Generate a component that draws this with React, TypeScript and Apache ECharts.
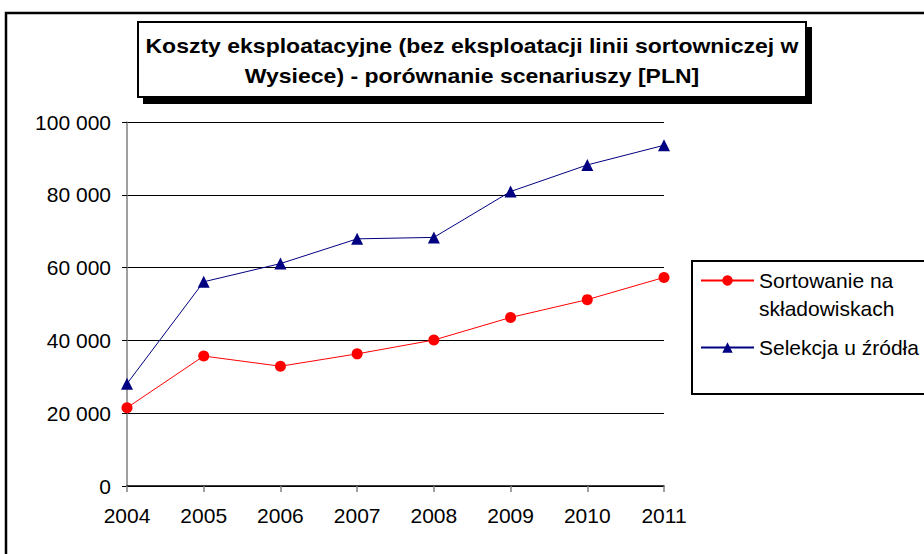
import React, { useEffect, useRef } from "react";
import * as echarts from "echarts";

const years = ["2004", "2005", "2006", "2007", "2008", "2009", "2010", "2011"];
const sortowanie = [21500, 35700, 32900, 36300, 40100, 46300, 51200, 57300];
const selekcja = [28100, 56100, 61100, 67900, 68300, 80900, 88200, 93600];
const seriesNames = ["Sortowanie na składowiskach", "Selekcja u źródła"];
const titleLines = [
  "Koszty eksploatacyjne (bez eksploatacji linii sortowniczej w",
  "Wysiece) - porównanie scenariuszy [PLN]",
];

const FONT = "Arial, 'Liberation Sans', sans-serif";

export default function App() {
  const ref = useRef<HTMLDivElement>(null);
  useEffect(() => {
    if (!ref.current) return;
    const chart = echarts.init(ref.current, null, { renderer: "svg" });
    chart.setOption({
      animation: false,
      backgroundColor: "#ffffff",
      textStyle: { fontFamily: FONT },
      grid: { left: 127, right: 260, top: 122, bottom: 68, containLabel: false },
      xAxis: {
        type: "category",
        data: years,
        boundaryGap: false,
        axisLine: { lineStyle: { color: "#000000", width: 1.5 } },
        axisTick: { show: true, length: 6, lineStyle: { color: "#808080", width: 1.5 } },
        axisLabel: { color: "#000", fontSize: 21, fontFamily: FONT, margin: 19 },
      },
      yAxis: {
        type: "value",
        min: 0,
        max: 100000,
        interval: 20000,
        axisLine: { show: true, lineStyle: { color: "#808080", width: 1.5 } },
        axisTick: { show: true, length: 5, lineStyle: { color: "#000", width: 1 } },
        axisLabel: {
          color: "#000",
          fontSize: 21,
          fontFamily: FONT,
          margin: 16,
          formatter: (v: number) => String(v).replace(/\B(?=(\d{3})+(?!\d))/g, " "),
        },
        splitLine: { show: true, lineStyle: { color: "#000", width: 1 } },
      },
      legend: {
        orient: "vertical",
        left: 700,
        top: 270,
        padding: 0,
        itemWidth: 53,
        itemHeight: 13,
        itemGap: 46,
        data: seriesNames,
        textStyle: { fontSize: 21, fontFamily: FONT, color: "#000", lineHeight: 21 },
        formatter: (name: string) => (name === seriesNames[0] ? "Sortowanie na" : name),
      },
      series: [
        {
          name: seriesNames[0],
          type: "line",
          data: sortowanie,
          symbol: "circle",
          symbolSize: 11,
          lineStyle: { color: "#ff0000", width: 1 },
          itemStyle: { color: "#ff0000" },
          z: 3,
        },
        {
          name: seriesNames[1],
          type: "line",
          data: selekcja,
          symbol: "triangle",
          symbolSize: 12,
          lineStyle: { color: "#000080", width: 1 },
          itemStyle: { color: "#000080" },
          z: 3,
        },
      ],
      graphic: [
        {
          type: "rect",
          shape: { x: 6, y: 13, width: 1000, height: 700 },
          style: { fill: "none", stroke: "#000", lineWidth: 2.5 },
          silent: true,
          z: -10,
        },
        {
          type: "rect",
          shape: { x: 143, y: 27, width: 669, height: 77 },
          style: { fill: "#000" },
          z: 10,
        },
        {
          type: "rect",
          shape: { x: 138, y: 22, width: 668, height: 75 },
          style: { fill: "#fff", stroke: "#000", lineWidth: 2 },
          z: 11,
        },
        {
          type: "text",
          x: 472,
          y: 46,
          scaleX: 1.15,
          style: {
            text: titleLines[0],
            font: `bold 20px ${FONT}`,
            fill: "#000",
            align: "center",
            verticalAlign: "middle",
          },
          z: 12,
        },
        {
          type: "text",
          x: 472,
          y: 76,
          scaleX: 1.15,
          style: {
            text: titleLines[1],
            font: `bold 20px ${FONT}`,
            fill: "#000",
            align: "center",
            verticalAlign: "middle",
          },
          z: 12,
        },
        {
          type: "rect",
          shape: { x: 692, y: 261, width: 400, height: 133 },
          style: { fill: "#fff", stroke: "#000", lineWidth: 2 },
          z: -5,
        },
        {
          type: "text",
          x: 759,
          y: 308,
          style: {
            text: "składowiskach",
            font: `21px ${FONT}`,
            fill: "#000",
            align: "left",
            verticalAlign: "middle",
          },
          z: 12,
        },
      ],
    });
    return () => chart.dispose();
  }, []);
  return (
    <div
      ref={ref}
      style={{ position: "fixed", left: 0, top: 0, width: 924, height: 554, background: "#fff" }}
    />
  );
}
